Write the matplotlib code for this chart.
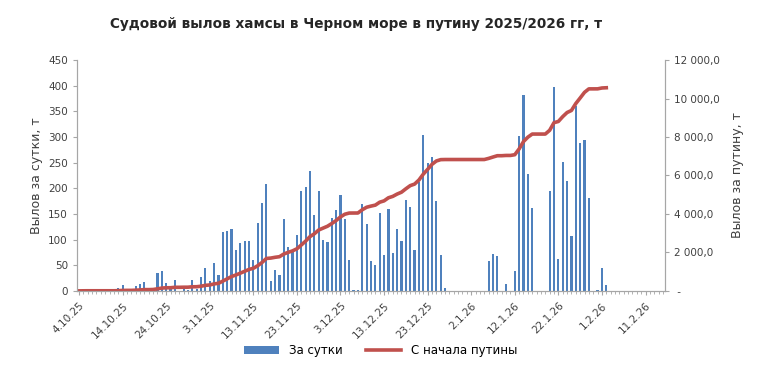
import numpy as np
import pandas as pd
import matplotlib
matplotlib.use("Agg")
import matplotlib.pyplot as plt
import matplotlib.dates as mdates
from matplotlib.ticker import FuncFormatter

# daily catch, t (from 4.10.25)
daily = [0, 3, 2, 0, 0, 0, 0, 0, 0, 6,
         12, 3, 0, 9, 13, 17, 0, 6, 35, 39,
         15, 3, 22, 0, 5, 1, 21, 3, 27, 45,
         20, 55, 31, 115, 117, 121, 80, 94, 97, 97,
         60, 133, 171, 208, 19, 41, 31, 140, 86, 77,
         109, 195, 203, 234, 148, 195, 99, 96, 142, 158,
         187, 140, 60, 2, 1, 169, 131, 59, 51, 152,
         69, 160, 73, 121, 97, 177, 164, 80, 212, 304,
         250, 261, 175, 70, 6, 0, 0, 0, 0, 0,
         0, 0, 0, 0, 58, 72, 68, 0, 14, 0,
         38, 302, 382, 228, 162, 0, 0, 0, 195, 398,
         62, 251, 214, 107, 360, 288, 294, 181, 0, 1,
         45, 12]
start = "2025-10-04"
tick_start, tick_end = "2025-10-04", "2026-02-11"
left_ticks = list(range(0, 451, 50))
right_ticks = list(range(0, 12001, 2000))

dates = pd.date_range(start, periods=len(daily))
total = np.cumsum(daily)

fig = plt.figure(figsize=(7.61, 3.71), dpi=100)
ax = fig.add_axes([0.101, 0.216, 0.773, 0.622])
ax2 = ax.twinx()

bars = ax.bar(dates, daily, width=0.5, color="#4F81BD", label="За сутки")
line, = ax2.plot(dates, total, color="#C0504D", lw=2.6, label="С начала путины")

ax.set_xlim(pd.Timestamp(start) - pd.Timedelta(days=0.5), pd.Timestamp(start) + pd.Timedelta(days=134.5))
ax.set_ylim(0, 450)
ax2.set_ylim(0, 12000)
ax.set_yticks(left_ticks)
ax2.set_yticks(right_ticks)

ticks = pd.date_range(tick_start, tick_end, freq="10D")
ax.set_xticks(ticks)
ax.set_xticklabels([f"{d.day}.{d.month}.{d.year % 100}" for d in ticks],
                   rotation=45, ha="right", rotation_mode="anchor")
ax.xaxis.set_minor_locator(mdates.DayLocator())

ax2.yaxis.set_major_formatter(FuncFormatter(
    lambda v, p: " -" if v == 0 else f"{v:,.1f}".replace(",", " ").replace(".", ",")))

gray = "#A6A6A6"
for a in (ax, ax2):
    a.spines["top"].set_visible(False)
    for s in ("left", "right", "bottom"):
        a.spines[s].set_color(gray)
    a.tick_params(colors=gray, labelcolor="#404040", labelsize=7.5, length=3)
ax.tick_params(axis="x", which="minor", length=2, colors=gray)
ax.tick_params(axis="x", pad=4)

ax.set_ylabel("Вылов за сутки, т", fontsize=9, color="#404040")
ax2.set_ylabel("Вылов за путину, т", fontsize=9, color="#404040", labelpad=8)

fig.text(0.468, 0.935, "Судовой вылов хамсы в Черном море в путину 2025/2026 гг, т",
         ha="center", va="center", fontsize=9.8, color="#262626", weight="bold")

fig.legend(handles=[bars, line], loc="center", bbox_to_anchor=(0.5, 0.055), ncol=2,
           frameon=False, fontsize=8.5, handlelength=3, columnspacing=2.0)

fig.savefig("out.png", dpi=100)
